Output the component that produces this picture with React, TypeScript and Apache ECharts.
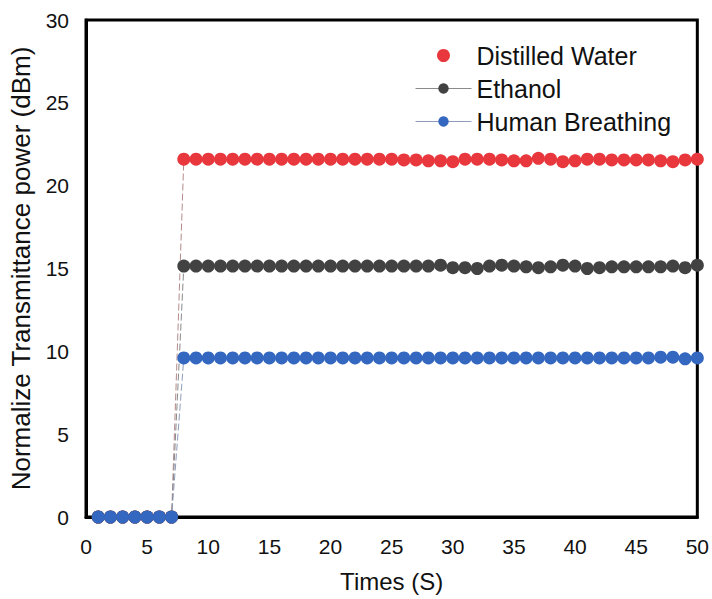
import React, { useEffect, useRef } from "react";
import * as echarts from "echarts";

const times: number[] = Array.from({ length: 50 }, (_, i) => i + 1);

const distilledWater: number[] = [
  0, 0, 0, 0, 0, 0, 0,
  21.6, 21.6, 21.6, 21.6, 21.6, 21.6, 21.6, 21.6, 21.6, 21.6,
  21.6, 21.6, 21.6, 21.6, 21.6, 21.6, 21.6, 21.6,
  21.55, 21.55, 21.5, 21.5, 21.45, 21.6, 21.6, 21.6, 21.55, 21.5,
  21.5, 21.65, 21.6, 21.45, 21.5, 21.6, 21.6, 21.55, 21.55, 21.55,
  21.55, 21.5, 21.45, 21.55, 21.6,
];

const ethanol: number[] = [
  0, 0, 0, 0, 0, 0, 0,
  15.15, 15.15, 15.15, 15.15, 15.15, 15.15, 15.15, 15.15, 15.15, 15.15,
  15.15, 15.15, 15.15, 15.15, 15.15, 15.15, 15.15, 15.15,
  15.15, 15.15, 15.15, 15.2, 15.05, 15.05, 15.0, 15.15, 15.2, 15.15,
  15.1, 15.05, 15.1, 15.2, 15.15, 15.0, 15.05, 15.1, 15.1, 15.1,
  15.1, 15.1, 15.15, 15.05, 15.2,
];

const humanBreathing: number[] = [
  0, 0, 0, 0, 0, 0, 0,
  9.6, 9.6, 9.6, 9.6, 9.6, 9.6, 9.6, 9.6, 9.6, 9.6,
  9.6, 9.6, 9.6, 9.6, 9.6, 9.6, 9.6, 9.6,
  9.6, 9.6, 9.6, 9.6, 9.6, 9.6, 9.6, 9.6, 9.6, 9.6,
  9.6, 9.6, 9.6, 9.6, 9.6, 9.6, 9.6, 9.6, 9.6, 9.6,
  9.6, 9.65, 9.65, 9.55, 9.6,
];

const seriesNames = ["Distilled Water", "Ethanol", "Human Breathing"];
const markerColors = ["#e8383d", "#424242", "#3467c0"];
const lineColors = ["#b58a8a", "#8a8a8a", "#8f9dbd"];

const FONT = "Liberation Sans, Arial, Helvetica, sans-serif";

export default function App() {
  const ref = useRef<HTMLDivElement>(null);

  useEffect(() => {
    if (!ref.current) return;
    const chart = echarts.init(ref.current, undefined, { renderer: "svg" });
    const all = [distilledWater, ethanol, humanBreathing];
    chart.setOption({
      animation: false,
      backgroundColor: "#ffffff",
      textStyle: { fontFamily: FONT },
      grid: {
        left: 84,
        top: 20,
        right: 10,
        bottom: 82,
        show: true,
        borderColor: "#000",
        borderWidth: 3,
        backgroundColor: "transparent",
      },
      legend: {
        orient: "vertical",
        left: 410,
        top: 38,
        itemWidth: 56,
        itemHeight: 13,
        itemGap: 8,
        textStyle: { fontSize: 25, color: "#111", fontFamily: FONT },
        data: [
          { name: seriesNames[0], icon: "circle" },
          {
            name: seriesNames[1],
            lineStyle: { type: "solid", color: "#8a8a8a", width: 1 },
          },
          {
            name: seriesNames[2],
            lineStyle: { type: "solid", color: "#8f9dbd", width: 1 },
          },
        ],
      },
      xAxis: {
        type: "value",
        min: 0,
        max: 50,
        interval: 5,
        name: "Times (S)",
        nameLocation: "middle",
        nameGap: 52,
        nameTextStyle: { fontSize: 24, color: "#111", fontFamily: FONT },
        axisLine: { show: true, lineStyle: { color: "#000", width: 3 } },
        axisTick: { show: false },
        splitLine: { show: false },
        axisLabel: { fontSize: 21, color: "#111", margin: 19, fontFamily: FONT },
      },
      yAxis: {
        type: "value",
        min: 0,
        max: 30,
        interval: 5,
        name: "Normalize Transmittance power (dBm)",
        nameLocation: "middle",
        nameGap: 52,
        nameTextStyle: { fontSize: 26, color: "#111", fontFamily: FONT },
        axisLine: { show: true, lineStyle: { color: "#000", width: 3 } },
        axisTick: { show: false },
        splitLine: { show: false },
        axisLabel: { fontSize: 21, color: "#111", margin: 17, fontFamily: FONT },
      },
      series: seriesNames.map((name, i) => ({
        name,
        type: "line",
        data: times.map((t, j) => [t, all[i][j]]),
        symbol: "circle",
        symbolSize: 13,
        showSymbol: true,
        itemStyle: { color: markerColors[i] },
        lineStyle: { color: lineColors[i], width: 1, type: [7, 3] },
        z: 2 + i,
      })),
    });
    return () => chart.dispose();
  }, []);

  return (
    <div
      ref={ref}
      style={{ position: "absolute", left: 0, top: 0, width: 712, height: 599 }}
    />
  );
}
